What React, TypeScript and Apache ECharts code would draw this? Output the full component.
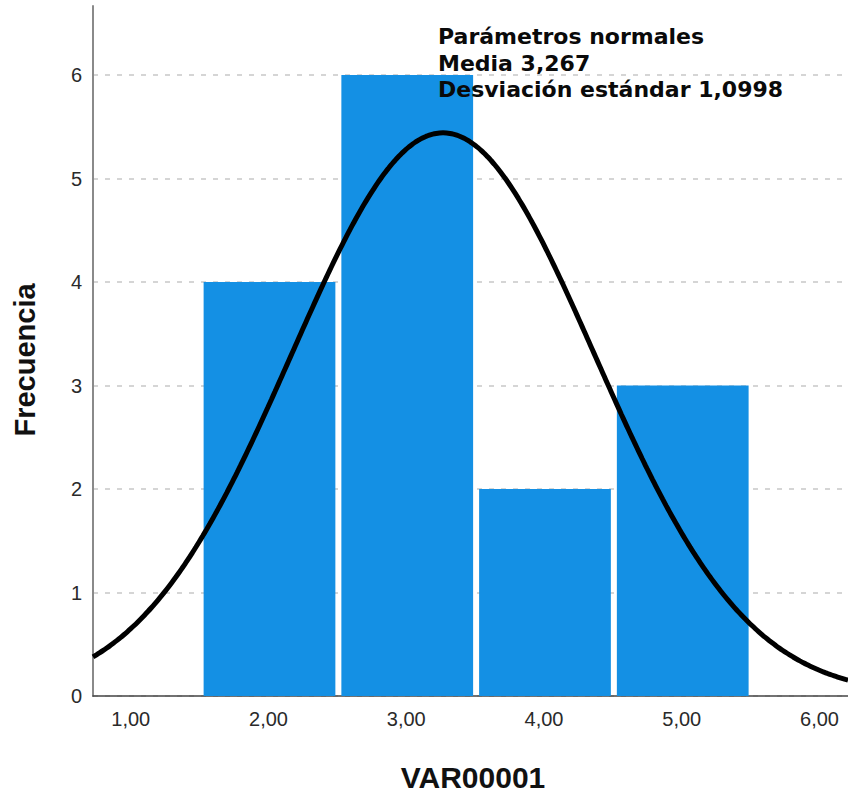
import React, { useEffect, useRef } from "react";
import * as echarts from "echarts";

// Histogram bins (centres), counts
const binCenters = [2, 3, 4, 5];
const counts = [4, 6, 2, 3];
const binWidth = 1;
// Normal parameters shown on the chart
const mean = 3.267;
const stdDev = 1.0998;
const xTickValues = [1, 2, 3, 4, 5, 6];
const yTickValues = [0, 1, 2, 3, 4, 5, 6];
const annotationLines = [
  "Parámetros normales",
  "Media 3,267",
  "Desviación estándar 1,0998",
];

const X_MIN = 0.726;
const X_MAX = 6.207;
const Y_MAX = 6.667;

function normalCurve(): number[][] {
  const n = counts.reduce((a, b) => a + b, 0);
  const pts: number[][] = [];
  const steps = 220;
  for (let i = 0; i <= steps; i++) {
    const x = X_MIN + ((X_MAX - X_MIN) * i) / steps;
    const z = (x - mean) / stdDev;
    const y = (n * binWidth * Math.exp(-0.5 * z * z)) / (stdDev * Math.sqrt(2 * Math.PI));
    pts.push([x, y]);
  }
  return pts;
}

export default function App() {
  const ref = useRef<HTMLDivElement>(null);
  useEffect(() => {
    if (!ref.current) return;
    const chart = echarts.init(ref.current, undefined, { renderer: "svg" });
    const barData = binCenters.map((c, i) => [c, counts[i]]);
    chart.setOption({
      animation: false,
      backgroundColor: "#ffffff",
      grid: { left: 93, right: 0, top: 6, bottom: 100, containLabel: false },
      xAxis: {
        type: "value",
        min: X_MIN,
        max: X_MAX,
        axisLine: { show: true, lineStyle: { color: "#444444", width: 1.5 } },
        axisTick: { show: false },
        splitLine: { show: false },
        axisLabel: {
          customValues: xTickValues,
          formatter: (v: number) => v.toFixed(2).replace(".", ","),
          fontFamily: "Liberation Sans",
          fontSize: 20,
          color: "#2a2a2a",
          margin: 13,
        },
      },
      yAxis: {
        type: "value",
        min: 0,
        max: Y_MAX,
        interval: 1,
        axisLine: { show: true, lineStyle: { color: "#8a8a8a", width: 2 } },
        axisTick: { show: false },
        splitLine: {
          show: true,
          showMaxLine: false,
          lineStyle: { color: "#c8c8c8", type: [5, 7], width: 1.5 },
        },
        axisLabel: {
          showMaxLabel: false,
          formatter: (v: number) => (yTickValues.indexOf(v) >= 0 ? String(v) : ""),
          fontFamily: "Liberation Sans",
          fontSize: 20,
          color: "#2a2a2a",
          margin: 11,
        },
      },
      series: [
        {
          type: "custom",
          data: barData,
          z: 2,
          renderItem: (params: any, api: any) => {
            const x = api.value(0);
            const y = api.value(1);
            const p0 = api.coord([x - binWidth / 2, y]);
            const p1 = api.coord([x + binWidth / 2, 0]);
            return {
              type: "rect",
              shape: {
                x: p0[0] + 4,
                y: p0[1],
                width: p1[0] - p0[0] - 6,
                height: p1[1] - p0[1],
              },
              style: { fill: "#1490e4" },
            };
          },
        },
        {
          type: "line",
          data: normalCurve(),
          showSymbol: false,
          symbol: "none",
          smooth: true,
          z: 3,
          lineStyle: { color: "#000000", width: 5 },
          clip: true,
        },
      ],
      graphic: [
        ...annotationLines.map((t, i) => ({
          type: "text",
          x: 438,
          y: 36.5 + i * 26.6,
          z: 10,
          style: {
            text: t,
            fontFamily: "DejaVu Sans",
            fontWeight: "bold",
            fontSize: 22,
            fill: "#0a0a0a",
            align: "left",
            verticalAlign: "middle",
          },
        })),
        {
          type: "text",
          x: 25,
          y: 360,
          rotation: Math.PI / 2,
          style: {
            text: "Frecuencia",
            fontFamily: "Liberation Sans",
            fontWeight: "bold",
            fontSize: 29,
            fill: "#111111",
            align: "center",
            verticalAlign: "middle",
          },
        },
        {
          type: "text",
          x: 473,
          y: 777,
          style: {
            text: "VAR00001",
            fontFamily: "Liberation Sans",
            fontWeight: "bold",
            fontSize: 30,
            fill: "#111111",
            align: "center",
            verticalAlign: "middle",
          },
        },
      ],
    });
    return () => chart.dispose();
  }, []);
  return (
    <div
      ref={ref}
      style={{ position: "fixed", left: 0, top: 0, width: 848, height: 796 }}
    />
  );
}
